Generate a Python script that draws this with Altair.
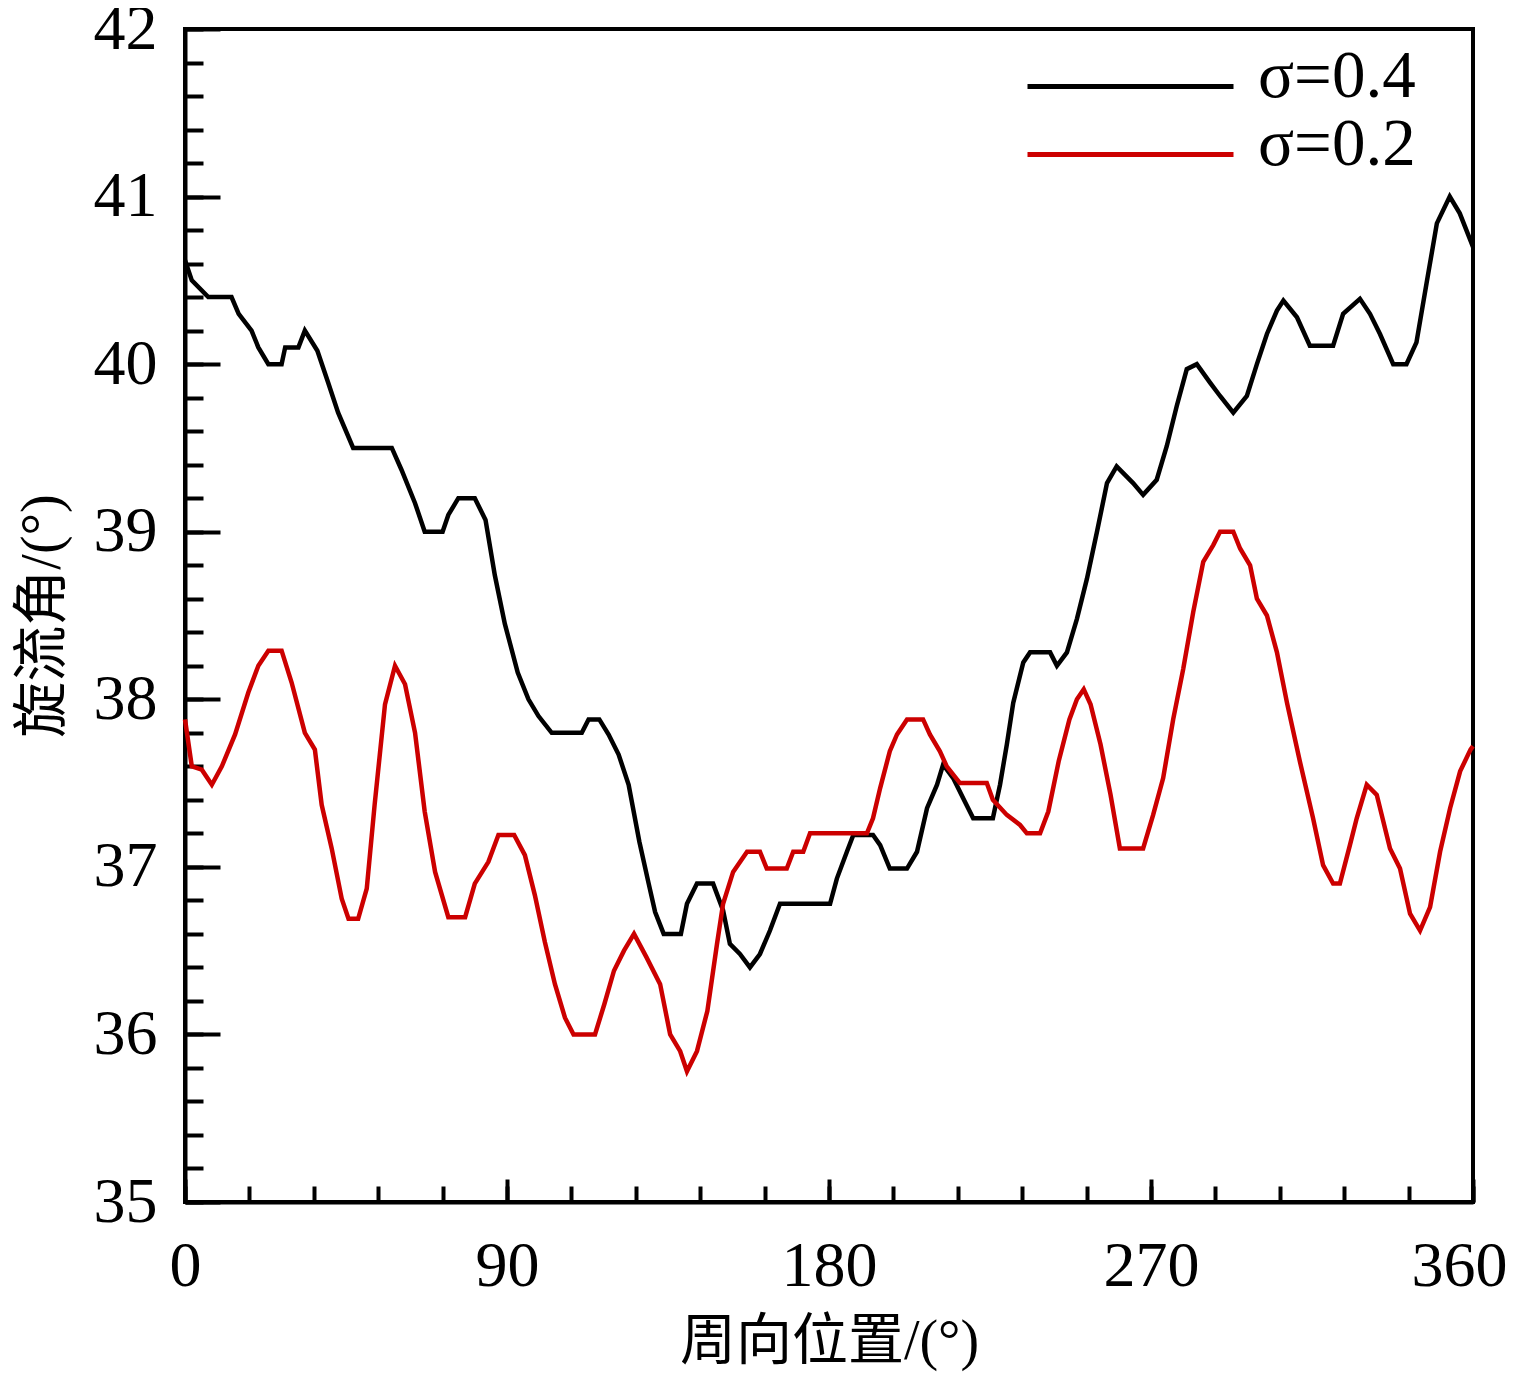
import altair as alt
import pandas as pd

# 旋流角沿周向分布, 两种 σ
ang_04 = [0, 1.9, 6.5, 13, 15, 18.6, 20.5, 23.3, 27, 28, 31.7, 33.5, 37, 40, 42.8, 47,
          57.8, 60.5, 64.3, 67, 72, 73.6, 76.4, 81, 84, 86.6, 89.4, 93, 96, 98.8, 102.5,
          110.9, 112.8, 115.8, 118.4, 121.2, 124, 127, 129.6, 131.4, 133.8, 138.6, 140.3,
          143.1, 147.6, 150.4, 152.3, 155.1, 157.9, 160.7, 163.5, 166.3, 180.3, 182.2, 185,
          186.8, 192.3, 194.3, 197, 201.8, 204.6, 207.4, 210.2, 211.9, 214.7, 217.5, 220.3,
          225.8, 227.8, 229.7, 231.5, 234.3, 236.2, 241.8, 243.7, 246.5, 249.3, 252.1,
          254.9, 257.7, 260.4, 265, 267.8, 271.6, 274.4, 277.2, 280, 282.8, 286.5, 289.3,
          293, 296.8, 299.6, 302.4, 305.2, 307, 310.8, 314.4, 320.9, 323.7, 328.4, 331.2,
          334, 337.7, 341.4, 344.2, 347, 349.9, 353.5, 356.3, 360]
val_04 = [40.62, 40.5, 40.4, 40.4, 40.3, 40.2, 40.1, 40.0, 40.0, 40.1, 40.1, 40.2, 40.08,
          39.89, 39.71, 39.5, 39.5, 39.37, 39.17, 39.0, 39.0, 39.1, 39.2, 39.2, 39.07,
          38.74, 38.45, 38.16, 38.0, 37.9, 37.8, 37.8, 37.88, 37.88, 37.79, 37.67, 37.49,
          37.15, 36.9, 36.73, 36.6, 36.6, 36.78, 36.9, 36.9, 36.74, 36.54, 36.48, 36.4,
          36.48, 36.62, 36.78, 36.78, 36.93, 37.09, 37.19, 37.19, 37.13, 36.99, 36.99,
          37.09, 37.35, 37.49, 37.61, 37.53, 37.41, 37.29, 37.29, 37.49, 37.73, 37.98,
          38.22, 38.28, 38.28, 38.2, 38.28, 38.48, 38.72, 39.0, 39.29, 39.39, 39.29, 39.22,
          39.31, 39.51, 39.75, 39.97, 40.0, 39.89, 39.81, 39.71, 39.81, 40.0, 40.18, 40.32,
          40.38, 40.28, 40.11, 40.11, 40.3, 40.39, 40.3, 40.18, 40.0, 40.0, 40.13, 40.48,
          40.84, 41.0, 40.9, 40.7]

ang_02 = [0, 1.9, 4.7, 7.5, 10.3, 14, 17.7, 20.5, 23.3, 27, 29.8, 33.5, 36.3, 38.2, 41,
          43.8, 45.7, 48.4, 50.8, 53, 55.9, 58.7, 61.5, 64.3, 67, 69.9, 73.6, 78.3, 81,
          84.8, 87.6, 92, 95, 97.8, 100.6, 103.4, 106.2, 108.6, 114.6, 117.2, 119.9, 122.7,
          125.5, 129, 132.8, 135.6, 138.4, 140.3, 143.1, 146, 148.7, 150.4, 153.2, 157.1,
          160.7, 162.6, 168.2, 170, 172.8, 174.7, 190.6, 192.3, 194.3, 197, 199, 201.8,
          206.3, 208.2, 211, 212.9, 216.6, 224.1, 225.8, 229.7, 233.4, 235.3, 239, 241.3,
          244.2, 247.2, 249.3, 251.2, 253.1, 255.9, 258.7, 261.3, 267.8, 270.6, 273.4,
          276.2, 279, 281.8, 284.6, 287.4, 289.3, 293, 294.9, 297.7, 299.6, 302.4, 305.2,
          308, 311.6, 315.3, 318.1, 320.9, 322.8, 325.6, 327.5, 330.3, 333.1, 336.8, 339.6,
          342.4, 345.2, 348, 350.8, 353.6, 356.4, 359.3, 360]
val_02 = [37.88, 37.6, 37.58, 37.49, 37.6, 37.79, 38.04, 38.2, 38.29, 38.29, 38.1, 37.8,
          37.7, 37.37, 37.11, 36.81, 36.69, 36.69, 36.87, 37.37, 37.97, 38.2, 38.09, 37.8,
          37.33, 36.97, 36.7, 36.7, 36.9, 37.03, 37.19, 37.19, 37.07, 36.83, 36.55, 36.3,
          36.1, 36.0, 36.0, 36.18, 36.38, 36.5, 36.6, 36.46, 36.3, 36.0, 35.9, 35.78, 35.9,
          36.14, 36.54, 36.78, 36.97, 37.09, 37.09, 36.99, 36.99, 37.09, 37.09, 37.2, 37.2,
          37.29, 37.47, 37.69, 37.79, 37.88, 37.88, 37.79, 37.69, 37.6, 37.5, 37.5, 37.4,
          37.31, 37.25, 37.2, 37.2, 37.33, 37.63, 37.88, 38.0, 38.06, 37.97, 37.73, 37.43,
          37.11, 37.11, 37.31, 37.53, 37.88, 38.18, 38.52, 38.82, 38.92, 39.0, 39.0, 38.9,
          38.8, 38.6, 38.5, 38.28, 37.98, 37.63, 37.29, 37.01, 36.9, 36.9, 37.13, 37.29,
          37.49, 37.43, 37.11, 36.99, 36.72, 36.62, 36.76, 37.09, 37.35, 37.57, 37.7, 37.72]

series = ["σ=0.4", "σ=0.2"]
colors = ["#000000", "#cc0000"]

x_major = [0, 90, 180, 270, 360]
x_minor = list(range(0, 361, 18))
y_major = [35, 36, 37, 38, 39, 40, 41, 42]
y_minor = [round(35 + 0.2 * i, 1) for i in range(36)]

df = pd.concat([
    pd.DataFrame({"ang": ang_04, "val": val_04, "s": series[0]}),
    pd.DataFrame({"ang": ang_02, "val": val_02, "s": series[1]}),
])

FONT = "Liberation Serif"
CJK = "Liberation Serif, Noto Sans CJK SC"

xs = alt.Scale(domain=[0, 360], nice=False, zero=False)
ys = alt.Scale(domain=[35, 42], nice=False, zero=False)

lines = alt.Chart(df).mark_line(strokeWidth=4.5).encode(
    x=alt.X("ang:Q", scale=xs, axis=alt.Axis(
        orient="bottom", values=x_major, ticks=False, grid=False, labelFlush=False,
        # keep "360" inside the page
        labelOffset={"condition": {"test": "datum.value == 360", "value": -14}, "value": 0},
        domainColor="black", domainWidth=4,
        labelFont=FONT, labelFontSize=64, labelColor="black", labelPadding=32,
        title="周向位置/(°)", titleFont=CJK, titleFontSize=56, titleFontWeight="normal",
        titleColor="black", titlePadding=16)),
    y=alt.Y("val:Q", scale=ys, axis=alt.Axis(
        orient="left", values=y_major, ticks=False, grid=False, labelFlush=False,
        domainColor="black", domainWidth=4,
        labelFont=FONT, labelFontSize=64, labelColor="black", labelPadding=28,
        title="旋流角/(°)", titleFont=CJK, titleFontSize=56, titleFontWeight="normal",
        titleColor="black", titlePadding=22)),
    color=alt.Color("s:N", scale=alt.Scale(domain=series, range=colors),
                    legend=alt.Legend(title=None, orient="none", legendX=912, legendY=14,
                                      symbolType="M-10.3,1H10.3", symbolSize=400,
                                      symbolStrokeWidth=5, labelFont=FONT, labelFontSize=67,
                                      labelColor="black", labelOffset=94, labelLimit=400,
                                      rowPadding=0)),
)


# inward ticks: an invisible layer whose axis is pulled into the plot
def ticks(values, size, xaxis):
    tick_ax = alt.Axis(values=values, tickSize=size, offset=-size, tickWidth=4,
                       tickColor="black", labels=False, domain=False, grid=False,
                       title=None, orient="bottom" if xaxis else "left")
    return alt.Chart(df).mark_point(opacity=0).encode(
        x=alt.X("ang:Q", scale=xs, axis=tick_ax if xaxis else None),
        y=alt.Y("val:Q", scale=ys, axis=None if xaxis else tick_ax),
    )


chart = alt.layer(
    lines,
    ticks(x_minor, 16, True),
    ticks(x_major, 23, True),
    ticks(y_minor, 18, False),
    ticks(y_major, 35, False),
).resolve_axis(x="independent", y="independent").properties(
    width=1288, height=1173,
    autosize=alt.AutoSizeParams(type="none"),
    padding={"left": 177, "top": 21, "right": 34, "bottom": 170},
).configure_view(stroke="black", strokeWidth=4)

chart.save("out.html", embed_options={"renderer": "svg", "actions": False})
